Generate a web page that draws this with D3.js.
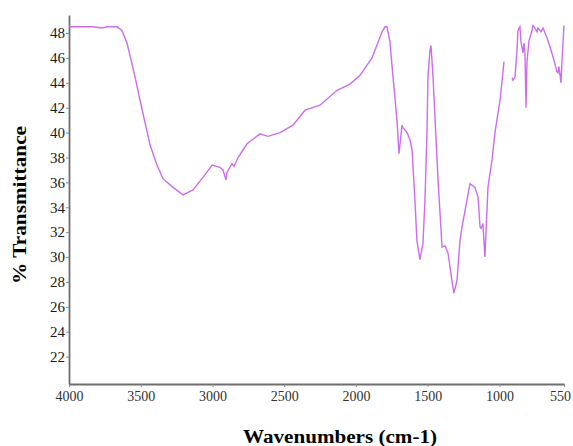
<!DOCTYPE html>
<html lang="en">
<head>
    <meta charset="UTF-8">
    <title>FTIR Spectrum</title>
    <style>
        body {
            margin: 0;
            padding: 0;
            background-color: #ffffff;
        }
        svg text {
            font-family: "Liberation Serif", "Times New Roman", serif;
        }
        .spectrum {
            fill: none;
            stroke: #cc6cf0;
            stroke-width: 1.4;
        }
    </style>
    <script src="https://d3js.org/d3.v7.min.js"></script>
</head>
<body>
    <div id="chart"></div>

    <script>
        // Spectrum (null = gap in the trace)
        const wavenumbers = [4000, 3833, 3770, 3735, 3665, 3631, 3596, 3575, 3540, 3505,
            3470, 3435, 3387, 3345, 3275, 3205, 3136, 3066, 3003, 2948, 2927,
            2906, 2899, 2864, 2850, 2822, 2759, 2669, 2613, 2529, 2439,
            2355, 2251, 2132, 2042, 1972, 1888, 1818, 1798, 1784, 1763,
            1742, 1714, 1700, 1679, 1672, 1644, 1623, 1609, 1589, 1575,
            1554, 1533, 1519, 1505, 1498, 1484, 1477, 1463, 1428, 1400,
            1379, 1358, 1331, 1317, 1296, 1275, 1261, 1226, 1205, 1170,
            1149, 1135, 1128, 1115, 1101, 1094, 1080, 1052, 1031, 996,
            968, 940, 912, 905, 891, 878, 871, 857, 850, 836,
            829, 822, 815, 808, 794, 773, 766, 752, 738, 731,
            710, 696, 682, 668, 648, 627, 599, 592, 585, 571,
            564, 550];
        const transmittance = [48.5, 48.5, 48.4, 48.5, 48.5, 48.2, 47.2, 46.2, 44.5, 42.6,
            40.8, 39.0, 37.4, 36.3, 35.6, 35.0, 35.4, 36.4, 37.4, 37.2, 37.0,
            36.2, 36.8, 37.5, 37.3, 38.0, 39.1, 39.9, 39.7, 40.0, 40.6,
            41.8, 42.2, 43.4, 43.9, 44.6, 46.0, 48.1, 48.5, 48.5, 47.3,
            44.5, 41.0, 38.3, 40.6, 40.4, 40.0, 39.4, 38.6, 34.6, 31.3,
            29.8, 31.1, 34.6, 40.0, 44.5, 46.6, 47.0, 44.5, 36.2, 30.8,
            30.9, 30.3, 28.1, 27.1, 28.1, 31.3, 32.4, 34.6, 35.9, 35.6,
            34.8, 32.4, 32.3, 32.7, 30.0, 31.9, 35.6, 37.8, 40.0, 42.6,
            45.7, null, 44.4, 44.2, 44.5, 46.6, 48.2, 48.5, 47.3, 46.4,
            47.2, 46.4, 42.0, 45.7, 47.4, 48.2, 48.6, 48.4, 48.1, 48.4,
            48.1, 48.4, 48.0, 47.6, 46.9, 46.1, 44.9, 44.8, 45.3, 44.0,
            45.8, 48.6];

        const xTicks = [4000, 3500, 3000, 2500, 2000, 1500, 1000, 550];
        const yTicks = [22, 24, 26, 28, 30, 32, 34, 36, 38, 40, 42, 44, 46, 48];

        const width = 573, height = 446;
        const margin = { left: 69, right: 564, top: 15, bottom: 384 };

        const svg = d3.select("#chart")
            .append("svg")
            .attr("width", width)
            .attr("height", height);

        const x = d3.scaleLinear().domain([4000, 550]).range([margin.left, margin.right]);
        const y = d3.scaleLinear().domain([19.8, 49.45]).range([margin.bottom, margin.top]);

        // axes
        const xAxis = svg.append("g")
            .attr("transform", `translate(0,${margin.bottom})`)
            .call(d3.axisBottom(x).tickValues(xTicks).tickFormat(d3.format("d"))
                .tickSize(3).tickSizeOuter(0).tickPadding(4));

        const yAxis = svg.append("g")
            .attr("transform", `translate(${margin.left},0)`)
            .call(d3.axisLeft(y).tickValues(yTicks).tickFormat(d3.format("d"))
                .tickSize(3).tickSizeOuter(0).tickPadding(1));

        [xAxis, yAxis].forEach(g => {
            g.select(".domain").attr("stroke", "#6e6e6e").attr("stroke-width", 1.8);
            g.selectAll(".tick line").attr("stroke", "#8a8a8a");
        });
        xAxis.selectAll(".tick text").attr("font-size", 14).attr("fill", "#333")
            .attr("font-family", "'Liberation Serif', serif");
        // last label sits at the very end of the axis, keep it inside the page
        xAxis.selectAll(".tick text").filter(d => d === 550).attr("dx", -4);
        yAxis.selectAll(".tick text").attr("font-size", 15).attr("fill", "#1a1a1a")
            .attr("font-family", "'Liberation Serif', serif");

        // spectrum trace
        const pts = wavenumbers.map((w, i) => [w, transmittance[i]]);
        const line = d3.line()
            .defined(d => d[1] !== null)
            .x(d => x(d[0]))
            .y(d => y(d[1]));

        svg.append("path")
            .datum(pts)
            .attr("class", "spectrum")
            .attr("d", line);

        // titles
        svg.append("text")
            .attr("x", 340)
            .attr("y", 443)
            .attr("text-anchor", "middle")
            .attr("font-size", 18)
            .attr("font-weight", "bold")
            .attr("textLength", 194)
            .attr("lengthAdjust", "spacingAndGlyphs")
            .text("Wavenumbers (cm-1)");

        svg.append("text")
            .attr("transform", "translate(26,205) rotate(-90)")
            .attr("text-anchor", "middle")
            .attr("font-size", 19)
            .attr("font-weight", "bold")
            .attr("textLength", 158)
            .attr("lengthAdjust", "spacingAndGlyphs")
            .text("% Transmittance");
    </script>
</body>
</html>
